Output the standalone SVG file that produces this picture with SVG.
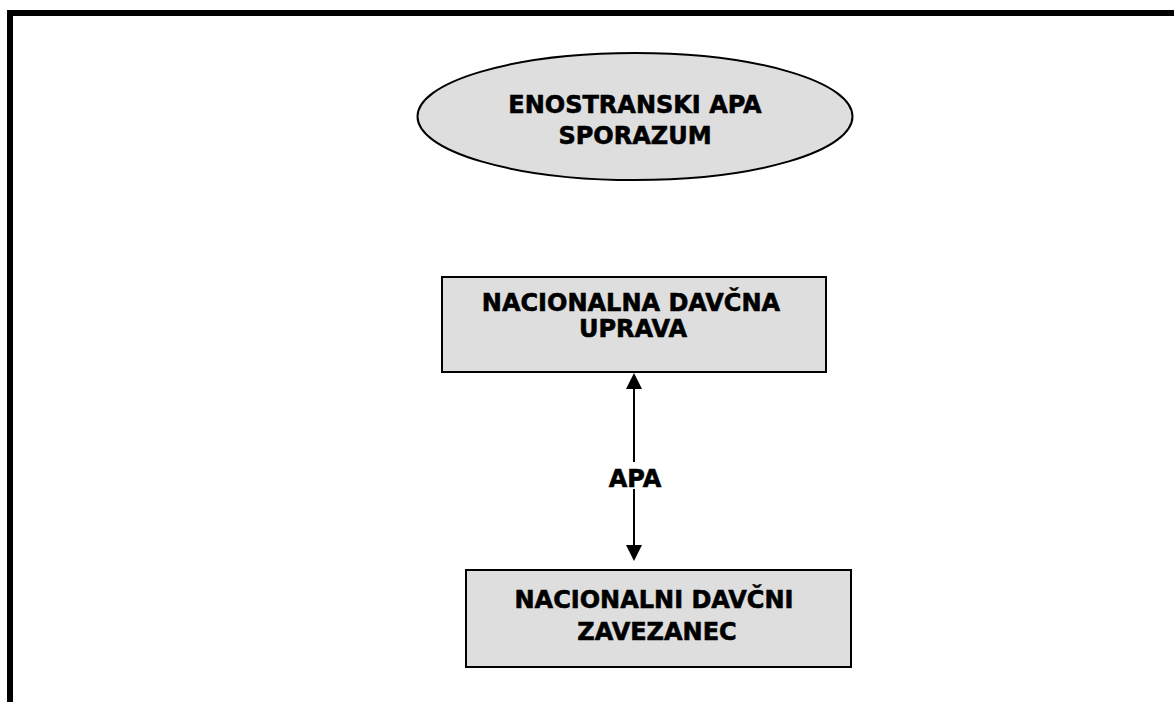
<svg xmlns="http://www.w3.org/2000/svg" width="1174" height="702" viewBox="0 0 1174 702">
  <style>
    .shape { fill: #dedede; stroke: #000; stroke-width: 2; }
    .label { font-family: "DejaVu Sans", Verdana, sans-serif; font-weight: bold; font-size: 24px; fill: #000; stroke: #000; stroke-width: 0.6; text-anchor: middle; }
    .link { stroke: #000; stroke-width: 2; fill: none; }
    .head { fill: #000; }
  </style>
  <rect width="1174" height="702" fill="#fff"/>
  <!-- page frame, runs off the right and bottom edges -->
  <rect x="10" y="13" width="1200" height="760" fill="none" stroke="#000" stroke-width="6"/>

  <g id="enostranski-apa">
    <ellipse class="shape" cx="635" cy="116.5" rx="217.5" ry="63.5" stroke-width="1.5"/>
    <text class="label" x="635" y="113">ENOSTRANSKI APA</text>
    <text class="label" x="635" y="144">SPORAZUM</text>
  </g>

  <g id="davcna-uprava">
    <rect class="shape" x="442" y="277" width="384" height="95"/>
    <text class="label" x="631" y="311">NACIONALNA DAVČNA</text>
    <text class="label" x="633" y="337">UPRAVA</text>
  </g>

  <g id="davcni-zavezanec">
    <rect class="shape" x="466" y="570" width="385" height="97"/>
    <text class="label" x="654" y="608">NACIONALNI DAVČNI</text>
    <text class="label" x="657" y="640">ZAVEZANEC</text>
  </g>

  <g id="connectors">
    <line class="link" x1="634" y1="388" x2="634" y2="462"/>
    <line class="link" x1="634" y1="489" x2="634" y2="546"/>
    <polygon class="head" points="634,373 626,389 642,389"/>
    <polygon class="head" points="634,561 626,545 642,545"/>
    <text class="label" x="635" y="487">APA</text>
  </g>
</svg>
